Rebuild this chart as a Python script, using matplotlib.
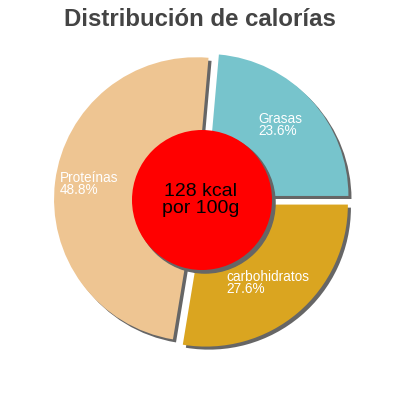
import matplotlib
matplotlib.use("Agg")
import matplotlib.pyplot as plt
import matplotlib.patches as mpatches

# Data
labels = ["Grasas", "Proteínas", "carbohidratos"]
percents = [23.6, 48.8, 27.6]
colors = ["#77c4cc", "#eec592", "#daa520"]
kcal_text = "128 kcal\npor 100g"
title = "Distribución de calorías"

# label anchor offsets from pie centre (px), left aligned
label_offsets = [(56, 75), (-142, 16), (24, -83)]

plt.rcParams['font.family'] = ['Liberation Sans', 'DejaVu Sans']

fig = plt.figure(figsize=(4, 4), dpi=100)
ax = fig.add_axes([0, 0, 1, 1])

cx, cy = 202, 200
radius = 142

# Pie with exploded wedges and solid grey shadow
wedges, _ = ax.pie(percents, colors=colors, startangle=0, counterclock=True,
                   radius=radius, center=(cx, cy), explode=[6, 6, 6],
                   wedgeprops=dict(linewidth=0),
                   shadow=dict(ox=2.2, oy=-2.2, facecolor="#666666",
                               edgecolor="#666666", alpha=1))
ax.set_xlim(0, 400)
ax.set_ylim(0, 400)
ax.set_aspect("equal")
ax.axis("off")

# Centre circle
circle = mpatches.Circle((cx, cy), 70, facecolor="#ff0000", edgecolor="none", zorder=5)
ax.add_patch(circle)
shad = mpatches.Shadow(circle, 2.2, -2.2, facecolor="#666666", edgecolor="#666666", alpha=1)
shad.set_zorder(4)
ax.add_patch(shad)
ax.text(cx - 1, cy, kcal_text, ha="center", va="center", fontsize=14,
        color="black", zorder=6, linespacing=1.0)

# Slice labels
for lab, pct, (dx, dy) in zip(labels, percents, label_offsets):
    ax.text(cx + dx, cy + dy, f"{lab}\n{pct}%", ha="left", va="center",
            fontsize=9.8, color="white", zorder=6, linespacing=0.9)

# Title
ax.text(200, 381, title, ha="center", va="center", fontsize=17.3,
        fontweight="bold", color="#444444")

fig.savefig("out.png", dpi=100)
